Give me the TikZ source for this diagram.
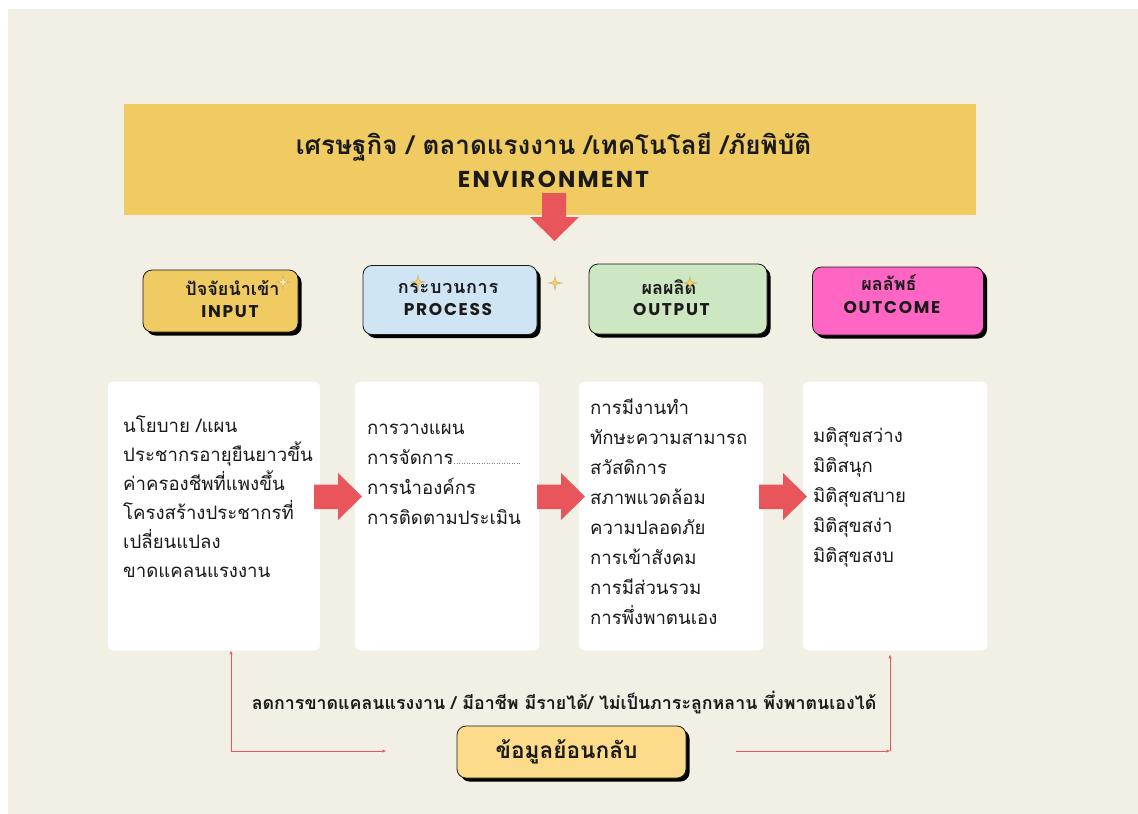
\documentclass[tikz,border=0pt]{standalone}
\usepackage{fontspec}
\newfontfamily\thai[Script=Thai]{Loma}
\newfontfamily\thaisp[Script=Thai,LetterSpace=4]{Loma}
\newfontfamily\lbl[LetterSpace=10]{Poppins}
\usetikzlibrary{arrows.meta,shadows}

\definecolor{bg}{HTML}{F2EFE4}
\definecolor{mustard}{HTML}{F0CB62}
\definecolor{skyc}{HTML}{CFE5F3}
\definecolor{mintc}{HTML}{CDE7C3}
\definecolor{pinkc}{HTML}{FF66C4}
\definecolor{sandc}{HTML}{FCDC8A}
\definecolor{redc}{HTML}{E8555A}
\definecolor{ink}{HTML}{1A1A1A}
\definecolor{starfill}{HTML}{F3D27A}
\definecolor{starpale}{HTML}{F8EBC4}
\definecolor{starline}{HTML}{C9A24A}

\tikzset{
  hdrbox/.style={draw=ink, line width=0.8pt, rounded corners=9pt,
    drop shadow={shadow xshift=3.5pt, shadow yshift=-3.5pt, opacity=1, fill=black}},
  card/.style={fill=white, rounded corners=6pt},
  hdrth/.style={font=\thai\bfseries\fontsize{18}{20}\selectfont, text=ink, inner sep=0pt},
  hdren/.style={font=\lbl\bfseries\fontsize{17}{19}\selectfont, text=ink, inner sep=0pt},
  body/.style={font=\thai\fontsize{18.6}{22}\selectfont, text=ink, inner sep=0pt, anchor=base west},
  blockarrow/.style={fill=redc},
  fbline/.style={draw=redc, line width=0.7pt, -{Stealth[length=4pt,width=3pt]}},
}
% small four-pointed sparkle: position, fill colour
\newcommand\sparkle[2]{%
  \path[shift={#1}, fill=#2, draw=starline, line width=0.35pt]
    (0,-7) .. controls (0.8,-0.8) .. (7,0)
    .. controls (0.8,0.8) .. (0,7)
    .. controls (-0.8,0.8) .. (-7,0)
    .. controls (-0.8,-0.8) .. cycle;}

\begin{document}
\begin{tikzpicture}[x=1pt,y=-1pt]
\useasboundingbox (0,0) rectangle (1138,814);
\fill[white] (0,0) rectangle (1138,814);
\fill[bg] (8,9) rectangle (1138,814);

% environment banner
\node[fill=mustard, minimum width=852pt, minimum height=111pt, inner sep=0pt] (env) at (550,159.5) {};
\node[font=\thai\bfseries\fontsize{26}{28}\selectfont, text=ink, inner sep=0pt] (envth) at (553.5,147)
  {เศรษฐกิจ / ตลาดแรงงาน /เทคโนโลยี /ภัยพิบัติ};
\node[font=\lbl\bfseries\fontsize{23}{26}\selectfont, text=ink, inner sep=0pt] (enven) at (553.5,179) {ENVIRONMENT};

% arrow down from the banner
\fill[blockarrow] (542,193) -- (566,193) -- (566,217) -- (579,217) -- (554.5,241) -- (530,217) -- (542,217) -- cycle;

% stage headers
\node[hdrbox, fill=mustard, minimum width=155pt, minimum height=62pt] (hin) at (220.5,301) {};
\node[hdrth] (hinth) at (232.5,288) {ปัจจัยนำเข้า};
\node[hdren] (hinen) at (230,312) {INPUT};

\node[hdrbox, fill=skyc, minimum width=174pt, minimum height=69pt] (hpr) at (450,300) {};
\node[hdrth, font=\thaisp\bfseries\fontsize{18}{20}\selectfont] (hprth) at (448,288) {กระบวนการ};
\node[hdren] (hpren) at (448,310) {PROCESS};

\node[hdrbox, fill=mintc, minimum width=178pt, minimum height=70pt] (hout) at (678,299) {};
\node[hdrth] (houtth) at (669,287) {ผลผลิต};
\node[hdren] (houten) at (671.5,310) {OUTPUT};

\node[hdrbox, fill=pinkc, minimum width=171pt, minimum height=68pt] (hoc) at (898,301) {};
\node[hdrth] (hocth) at (889,283) {ผลลัพธ์};
\node[hdren] (hocen) at (892,308) {OUTCOME};

\sparkle{(283,282)}{starpale}
\sparkle{(418,282)}{starfill}
\sparkle{(555,283)}{starfill}
\sparkle{(690,283)}{starfill}

% content cards
\node[card, minimum width=212pt, minimum height=269pt] (cin) at (214,516) {};
\node[card, minimum width=184pt, minimum height=269pt] (cpr) at (447,516) {};
\node[card, minimum width=184pt, minimum height=269pt] (cout) at (671,516) {};
\node[card, minimum width=184pt, minimum height=269pt] (coc) at (895,516) {};

\foreach \t [count=\i from 0] in {นโยบาย /แผน, ประชากรอายุยืนยาวขึ้น, ค่าครองชีพที่แพงขึ้น, โครงสร้างประชากรที่, เปลี่ยนแปลง, ขาดแคลนแรงงาน}
  \node[body] (tin-\i) at (123,432+29*\i) {\t};

\foreach \t [count=\i from 0] in {การวางแผน, การจัดการ, การนำองค์กร, การติดตามประเมิน}
  \node[body] (tpr-\i) at (367,434+30*\i) {\t};
\draw[gray, dotted, line width=0.5pt] (454,463.5) -- (520,463.5);

\foreach \t [count=\i from 0] in {การมีงานทำ, ทักษะความสามารถ, สวัสดิการ, สภาพแวดล้อม, ความปลอดภัย, การเข้าสังคม, การมีส่วนรวม, การพึ่งพาตนเอง}
  \node[body] (tout-\i) at (590,414+30*\i) {\t};

\foreach \t [count=\i from 0] in {มติสุขสว่าง, มิติสนุก, มิติสุขสบาย, มิติสุขสง่า, มิติสุขสงบ}
  \node[body] (toc-\i) at (813,442+30*\i) {\t};

% block arrows between cards
\foreach \x in {314,537,759}
  \fill[blockarrow] (\x,484.5) -- (\x+24,484.5) -- (\x+24,473) -- (\x+48,496.5)
    -- (\x+24,520) -- (\x+24,509) -- (\x,509) -- cycle;

% feedback
\node[font=\thai\bfseries\fontsize{17.8}{20}\selectfont, text=ink, inner sep=0pt] (fbtext) at (564,703)
  {ลดการขาดแคลนแรงงาน / มีอาชีพ มีรายได้/ ไม่เป็นภาระลูกหลาน พึ่งพาตนเองได้};
\node[hdrbox, fill=sandc, minimum width=229pt, minimum height=52pt] (fb) at (571.5,752) {};
\node[font=\thai\bfseries\fontsize{22.6}{25}\selectfont, text=ink, inner sep=0pt] (fbth) at (566.5,752) {ข้อมูลย้อนกลับ};

\coordinate (lc) at (231,751);
\coordinate (lend) at (386,751);
\coordinate (rc) at (890,751);
\coordinate (rstart) at (736,751);
\draw[fbline] (lc) -- (lc |- cin.south);
\draw[fbline] (lc) -- (lend);
\draw[fbline] (rstart) -- (rc);
\draw[fbline] (rc) -- ([yshift=-4pt]rc |- coc.south);
\end{tikzpicture}
\end{document}
